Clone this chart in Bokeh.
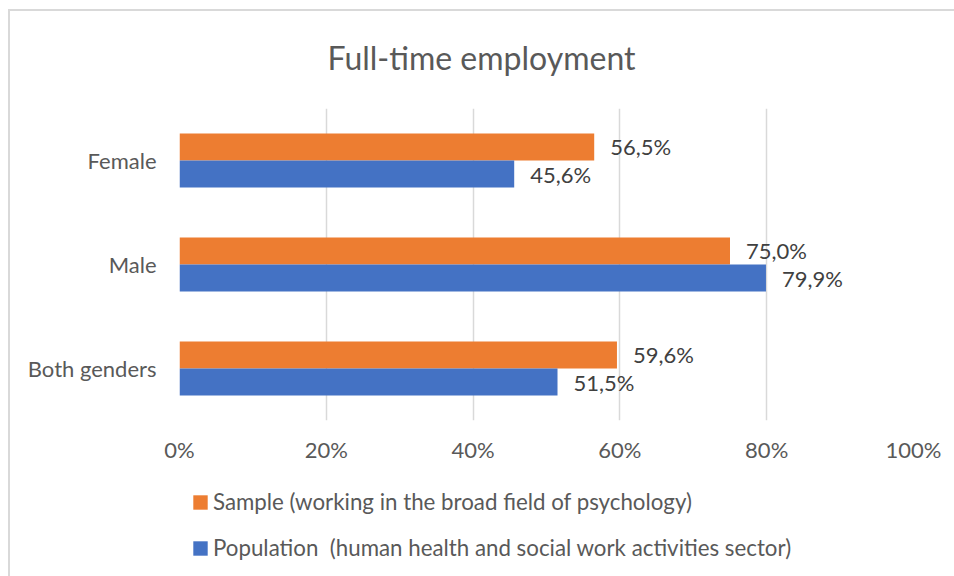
from bokeh.plotting import figure
from bokeh.layouts import column
from bokeh.models import ColumnDataSource, FactorRange, Range1d, FixedTicker, Legend, LegendItem, Title
from bokeh.transform import dodge
from bokeh.core.properties import value
from bokeh.embed import file_html
from bokeh.resources import INLINE

categories = ["Both genders", "Male", "Female"]
sample = [59.6, 75.0, 56.5]
population = [51.5, 79.9, 45.6]
sample_labels = ["59,6%", "75,0%", "56,5%"]
population_labels = ["51,5%", "79,9%", "45,6%"]
tick_values = [0, 20, 40, 60, 80, 100]
tick_labels = ["0%", "20%", "40%", "60%", "80%", "100%"]
series_names = ["Sample (working in the broad field of psychology)",
                "Population  (human health and social work activities sector)"]

FONT = "Lato"
ORANGE = "#ED7D31"
BLUE = "#4472C4"
TXT = "#595959"
FS = "22px"

src = ColumnDataSource(dict(cat=categories, sample=sample, population=population,
                            sl=sample_labels, pl=population_labels))

css_top = """
:host::after {
  content: "";
  position: absolute;
  left: 8px; top: 9px; right: 0; bottom: 0;
  border-left: 2px solid #D9D9D9;
  border-top: 2px solid #D9D9D9;
  pointer-events: none;
  z-index: 10;
}
"""
css_bottom = """
:host::after {
  content: "";
  position: absolute;
  left: 8px; top: 0; right: 0; bottom: 0;
  border-left: 2px solid #D9D9D9;
  pointer-events: none;
  z-index: 10;
}
"""

p = figure(width=954, height=470, output_backend="svg", toolbar_location=None,
           y_range=FactorRange(*categories, range_padding=0), x_range=Range1d(0, 100),
           min_border_left=179, min_border_right=41, min_border_top=108, min_border_bottom=50,
           stylesheets=[css_top])
p.outline_line_color = None
p.border_fill_color = "white"

t = Title(text="Full-time employment", align="left", text_font=FONT, text_font_size="32px",
          text_color=TXT, text_font_style="normal", offset=148, standoff=63)
p.add_layout(t, "above")

p.hbar(y=dodge("cat", 0.13, range=p.y_range), right="sample", height=0.26, left=0,
       source=src, fill_color=ORANGE, line_color=None)
p.hbar(y=dodge("cat", -0.13, range=p.y_range), right="population", height=0.26, left=0,
       source=src, fill_color=BLUE, line_color=None)

p.text(x="sample", y=dodge("cat", 0.13, range=p.y_range), text="sl", source=src,
       x_offset=16, text_align="left", text_baseline="middle",
       text_font=value(FONT), text_font_size=FS, text_color="#404040")
p.text(x="population", y=dodge("cat", -0.13, range=p.y_range), text="pl", source=src,
       x_offset=16, text_align="left", text_baseline="middle",
       text_font=value(FONT), text_font_size=FS, text_color="#404040")

p.xaxis.ticker = FixedTicker(ticks=tick_values)
p.xaxis.major_label_overrides = {v: l for v, l in zip(tick_values, tick_labels)}
for ax in (p.xaxis, p.yaxis):
    ax.axis_line_color = None
    ax.major_tick_line_color = None
    ax.minor_tick_line_color = None
    ax.major_tick_out = 0
    ax.major_tick_in = 0
    ax.minor_tick_out = 0
    ax.major_label_text_font = FONT
    ax.major_label_text_font_size = FS
    ax.major_label_text_color = TXT
p.xaxis.major_label_standoff = 15
p.yaxis.major_label_standoff = 23

p.xgrid.ticker = FixedTicker(ticks=tick_values)
p.xgrid.grid_line_color = "#D9D9D9"
p.xgrid.grid_line_width = 1.5
p.ygrid.grid_line_color = None

# legend panel (its frame is aligned with the chart's frame by the column layout)
p2 = figure(width=954, height=106, output_backend="svg", toolbar_location=None,
            x_range=Range1d(0, 100), y_range=FactorRange(*categories, range_padding=0),
            x_axis_location=None, y_axis_location=None, min_border=0,
            stylesheets=[css_bottom])
p2.outline_line_color = None
p2.grid.visible = False
# legend proxies: drawn with zero length so that only their legend swatches show
d1 = p2.hbar(y="cat", right=0, left=0, height=0.26, source=src, fill_color=ORANGE, line_color=None)
d2 = p2.hbar(y="cat", right=0, left=0, height=0.26, source=src, fill_color=BLUE, line_color=None)

legend = Legend(items=[LegendItem(label=series_names[0], renderers=[d1]),
                       LegendItem(label=series_names[1], renderers=[d2])],
                location=(12, 15), orientation="vertical")
legend.label_text_font = FONT
legend.label_text_font_size = "22.3px"
legend.label_text_color = TXT
legend.glyph_width = 18
legend.glyph_height = 18
legend.label_height = 26
legend.spacing = 19
legend.label_standoff = 4
legend.padding = 0
legend.margin = 0
legend.border_line_color = None
legend.background_fill_alpha = 0
p2.add_layout(legend, "center")

layout = column(p, p2, spacing=0)
open("out.html", "w").write(file_html(layout, INLINE))
